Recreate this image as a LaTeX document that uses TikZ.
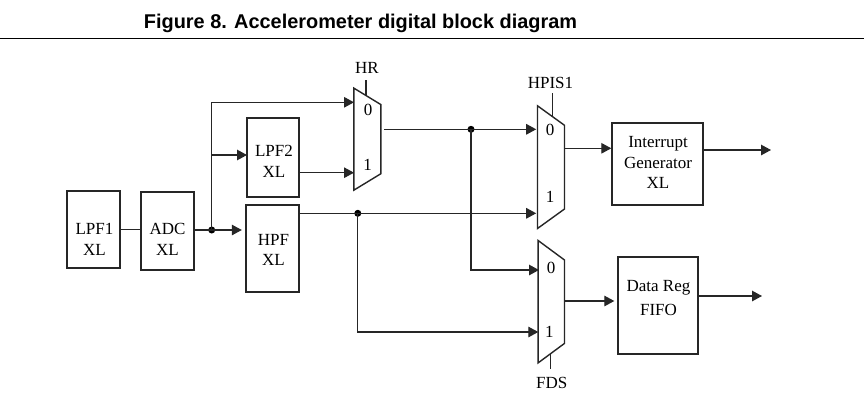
\documentclass[tikz,border=0pt]{standalone}
\usepackage{fontspec}
\setmainfont{Liberation Serif}
\newfontfamily\titlefont{Liberation Sans}
\usetikzlibrary{arrows.meta,calc}
\begin{document}
\begin{tikzpicture}[x=1pt,y=-1pt,
  boxline/.style={draw=black!85, line width=1.4pt},
  blk/.style={boxline, rectangle, inner sep=0pt},
  txt/.style={inner sep=0pt, align=center, font=\fontsize{17}{21}\selectfont},
  wire/.style={draw=black!85, line width=1.3pt},
  arr/.style={wire, -{Triangle[length=10pt,width=10.5pt]}},
  dot/.style={circle, fill=black, inner sep=0pt, minimum size=7pt},
  muxbox/.style={rectangle, inner sep=0pt, draw=none},
]
\fill[white] (0,0) rectangle (864,407);
\useasboundingbox (0,0) rectangle (864,407);

% title and rule
\node[anchor=base, inner sep=0pt, font=\titlefont\bfseries\fontsize{19.9}{24}\selectfont] (title) at (360.5,28.3) {Figure 8. Accelerometer digital block diagram};
\coordinate (ruleL) at (0,38.5);
\coordinate (ruleR) at (864,38.5);
\draw[line width=1.6pt] (ruleL) -- (ruleR);

% blocks
\node[blk, minimum width=53pt, minimum height=77pt] (lpf1) at (93.5,229.5) {};
\node[blk, minimum width=53pt, minimum height=78pt] (adc) at (167.5,231) {};
\node[blk, minimum width=52pt, minimum height=79pt] (lpf2) at (273,157.5) {};
\node[blk, minimum width=53pt, minimum height=87pt] (hpf) at (272.5,248.5) {};
\node[blk, minimum width=91pt, minimum height=82pt] (intg) at (657.5,164) {};
\node[blk, minimum width=80pt, minimum height=97pt] (dreg) at (658,305.5) {};

% block texts
\node[txt] (lpf1t) at (94.5,239.5) {LPF1\\XL};
\node[txt] (adct) at (167.5,239.5) {ADC\\XL};
\node[txt, font=\fontsize{17}{20}\selectfont] (hpft) at (273.5,250) {HPF\\XL};
\node[txt] (lpf2t) at (274,161.4) {LPF2\\XL};
\node[txt, font=\fontsize{17}{20.3}\selectfont] (intgt) at (658,162.7) {Interrupt\\Generator\\XL};
\node[txt, font=\fontsize{17}{23.7}\selectfont] (dregt) at (658.5,298.2) {Data Reg\\FIFO};

% multiplexers
\node[muxbox, minimum width=26.7pt, minimum height=101.7pt] (hr) at (367.35,139.15) {};
\node[muxbox, minimum width=26.6pt, minimum height=122.3pt] (hpis) at (551,167.15) {};
\node[muxbox, minimum width=26pt, minimum height=122pt] (fds) at (551.3,301.7) {};
\foreach \m/\d in {hr/16.5, hpis/19.5, fds/19.5}
  \draw[boxline] (\m.north west) -- ([yshift=-\d pt]\m.north east) -- ([yshift=\d pt]\m.south east) -- (\m.south west) -- cycle;

\node[txt] (hr0t) at (368,110) {0};
\node[txt] (hr1t) at (367.7,165) {1};
\node[txt] (hpis0t) at (550,130) {0};
\node[txt] (hpis1t) at (550,197) {1};
\node[txt] (fds0t) at (551,267.5) {0};
\node[txt] (fds1t) at (549.3,332) {1};
\node[txt] (hrl) at (367,67.5) {HR};
\node[txt] (hpisl) at (550.5,82.5) {HPIS1};
\node[txt] (fdsl) at (551.8,383) {FDS};

% select lines
\coordinate (hrselt) at (366,80);
\coordinate (hrsel) at (366,95.5);
\coordinate (hpisselt) at (552.7,93);
\coordinate (hpissel) at (552.7,117.3);
\coordinate (fdssel) at (550.7,353.4);
\coordinate (fdsselb) at (550.7,369.3);
\draw[wire] (hrselt) -- (hrsel);
\draw[wire] (hpisselt) -- (hpissel);
\draw[wire] (fdssel) -- (fdsselb);

% junction dots
\node[dot] (j1) at (211.7,230) {};
\node[dot] (j2) at (471,129.3) {};
\node[dot] (j3) at (357.8,213.3) {};

% ports
\coordinate (hrin0) at (354,102.3);
\coordinate (lpf2in) at (247,155);
\coordinate (lpf2out) at (299,172.7);
\coordinate (hrin1) at (354,172.7);
\coordinate (hrout) at (384,129.3);
\coordinate (hpisin0) at (537.7,129.3);
\coordinate (hpisin1) at (537.7,213.3);
\coordinate (hpfout) at (299,213.3);
\coordinate (fdsin0) at (539,270);
\coordinate (fdsin1) at (538.3,332);
\coordinate (hpisout) at (564.3,148.3);
\coordinate (fdsout) at (564.3,301);
\coordinate (out1) at (771,150);
\coordinate (out2) at (762,296);

% connectors
\draw[wire] (lpf1.east) -- (lpf1.east -| adc.west);
\draw[wire] (adc.east |- j1) -- (j1.center);
\draw[arr, shorten >=3.5pt] (j1.center) -- (j1 -| hpf.west);
\draw[arr] (j1.center) |- (hrin0);
\draw[arr] (j1 |- lpf2in) -- (lpf2in);
\draw[arr] (lpf2out) -- (hrin1);
\draw[wire] (hrout) -- (j2.center);
\draw[arr, shorten >=1.5pt] (j2.center) -- (hpisin0);
\draw[wire] (hpfout) -- (j3.center);
\draw[arr, shorten >=1.5pt] (j3.center) -- (hpisin1);
\draw[arr] (j2.center) |- (fdsin0);
\draw[arr] (j3.center) |- (fdsin1);
\draw[arr] (hpisout) -- (hpisout -| intg.west);
\draw[arr] (intg.east |- out1) -- (out1);
\draw[arr, shorten >=3pt] (fdsout) -- (fdsout -| dreg.west);
\draw[arr] (dreg.east |- out2) -- (out2);
\end{tikzpicture}
\end{document}
